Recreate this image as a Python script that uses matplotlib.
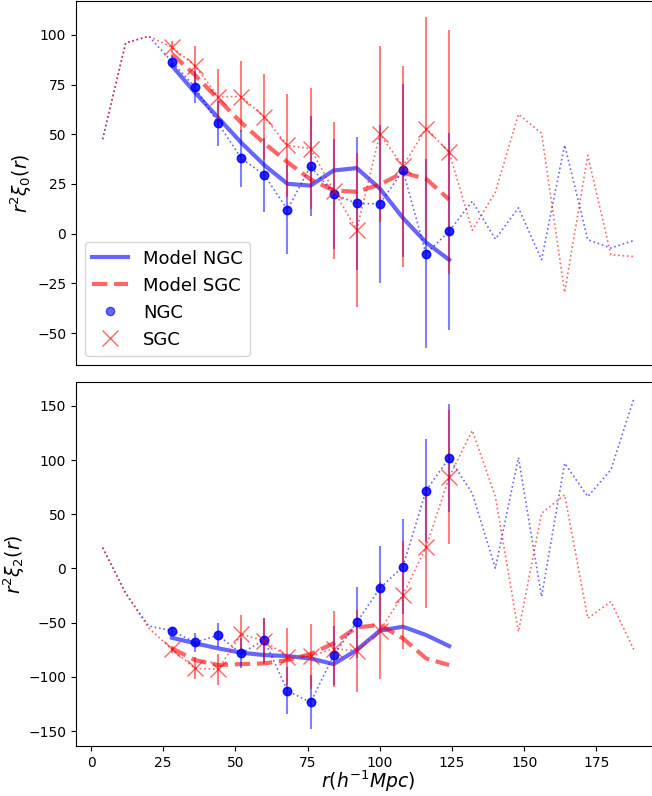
import numpy as np
import matplotlib
matplotlib.use("Agg")
import matplotlib.pyplot as plt

r_all = [4, 12, 20, 28, 36, 44, 52, 60, 68, 76, 84, 92, 100, 108, 116, 124,
         132, 140, 148, 156, 164, 172, 180, 188]
r_fit = [28, 36, 44, 52, 60, 68, 76, 84, 92, 100, 108, 116, 124]

# monopole r^2 xi_0
xi0_ngc_all = [47.5, 96.0, 99.3, 86.5, 73.7, 55.5, 38.0, 29.5, 12.1, 34.0, 20.0, 15.2, 15.0,
               31.8, -10.1, 1.2, 16.3, -2.7, 13.0, -13.1, 44.6, -3.0, -7.2, -3.4]
xi0_sgc_all = [47.5, 96.0, 99.3, 93.8, 84.5, 68.9, 69.0, 58.7, 44.4, 42.8, 21.7, 2.0, 50.0,
               34.0, 52.9, 41.1, 1.7, 20.9, 60.1, 50.5, -29.5, 39.4, -10.6, -11.5]
xi0_ngc_err = [3.0, 8.0, 11.4, 14.4, 18.4, 22.4, 25.2, 27.7, 33.5, 39.6, 43.5, 47.6, 49.5]
xi0_sgc_err = [3.0, 10.0, 14.0, 17.7, 21.4, 25.8, 30.3, 34.5, 38.7, 44.3, 50.6, 56.0, 61.6]
xi0_model_ngc = [84.5, 71.0, 58.4, 45.8, 34.5, 25.1, 24.2, 31.8, 33.0, 22.7, 7.9, -4.4, -13.1]
xi0_model_sgc = [90.5, 79.8, 67.7, 55.9, 45.5, 36.0, 27.3, 21.7, 21.1, 24.7, 30.7, 27.6, 17.2]

# quadrupole r^2 xi_2
xi2_ngc_all = [19.2, -22.9, -53.1, -57.4, -68.2, -61.7, -78.3, -66.0, -112.8, -123.6, -80.2,
               -49.7, -18.3, 1.7, 71.8, 102.0, 69.4, 0.2, 102.3, -26.0, 97.1, 66.3, 91.0, 157.0]
xi2_sgc_all = [19.2, -22.9, -55.0, -74.6, -92.2, -93.1, -60.5, -66.9, -81.4, -80.8, -74.0,
               -75.9, -57.4, -24.5, 19.6, 84.2, 127.3, 66.3, -58.3, 50.9, 67.9, -46.0, -30.6, -75.2]
xi2_ngc_err = [3.0, 8.9, 11.0, 13.8, 20.0, 21.8, 24.9, 27.4, 32.9, 39.4, 43.7, 47.4, 49.6]
xi2_sgc_err = [3.0, 10.2, 14.0, 17.5, 21.0, 26.2, 30.0, 35.0, 37.9, 45.0, 50.2, 56.3, 61.9]
xi2_model_ngc = [-63.9, -69.0, -73.7, -77.7, -79.9, -80.8, -83.0, -88.2, -75.2, -57.4, -53.7, -61.4, -71.6]
xi2_model_sgc = [-73.7, -84.5, -89.1, -88.2, -87.6, -84.5, -79.0, -69.0, -54.3, -52.2, -64.5, -83.0, -89.1]

fig = plt.figure(figsize=(6.52, 7.96), dpi=100)
ax1 = fig.add_axes([0.1166, 0.5415, 0.8965, 0.4577])
ax2 = fig.add_axes([0.1166, 0.0628, 0.8965, 0.4577])


def draw(ax, ngc_all, sgc_all, ngc_err, sgc_err, m_ngc, m_sgc, legend):
    r_all_a = np.array(r_all)
    r_fit_a = np.array(r_fit)
    ax.plot(r_fit_a, m_ngc, '-', color='blue', alpha=0.6, lw=3, label='Model NGC')
    ax.plot(r_fit_a, m_sgc, '--', color='red', alpha=0.6, lw=3, label='Model SGC')
    ax.plot(r_all_a, ngc_all, ':', color='blue', alpha=0.6, lw=1.2)
    ax.plot(r_all_a, sgc_all, ':', color='red', alpha=0.6, lw=1.2)
    i0 = r_all.index(r_fit[0])
    ngc_fit = np.array(ngc_all[i0:i0 + len(r_fit)])
    sgc_fit = np.array(sgc_all[i0:i0 + len(r_fit)])
    ax.errorbar(r_fit_a, ngc_fit, yerr=ngc_err, fmt='none', ecolor='blue', alpha=0.5, elinewidth=1.5)
    ax.errorbar(r_fit_a, sgc_fit, yerr=sgc_err, fmt='none', ecolor='red', alpha=0.5, elinewidth=1.5)
    ax.plot(r_fit_a, ngc_fit, 'o', color='blue', alpha=0.6, ms=6, label='NGC')
    ax.plot(r_fit_a, ngc_fit, 'o', color='blue', alpha=0.6, ms=6)
    ax.plot(r_fit_a, sgc_fit, 'x', color='red', alpha=0.6, ms=12, mew=1.0, label='SGC')
    ax.tick_params(labelsize=10)
    if legend:
        ax.legend(loc='lower left', fontsize=13)


draw(ax1, xi0_ngc_all, xi0_sgc_all, xi0_ngc_err, xi0_sgc_err, xi0_model_ngc, xi0_model_sgc, True)
draw(ax2, xi2_ngc_all, xi2_sgc_all, xi2_ngc_err, xi2_sgc_err, xi2_model_ngc, xi2_model_sgc, False)

ax1.set_ylabel(r'$r^2\xi_0(r)$', fontsize=13.5, labelpad=2)
ax2.set_ylabel(r'$r^2\xi_2(r)$', fontsize=13.5, labelpad=1)
ax2.set_xlabel(r'$r(h^{-1}Mpc)$', fontsize=13.5, labelpad=-1)
ax1.set_xticks([0, 25, 50, 75, 100, 125, 150, 175])
ax1.tick_params(axis='x', bottom=False, labelbottom=False)
ax2.set_xticks([0, 25, 50, 75, 100, 125, 150, 175])
ax1.set_xlim(-5.2, 197.2)
ax2.set_xlim(-5.2, 197.2)

fig.savefig('out.png', dpi=100)
